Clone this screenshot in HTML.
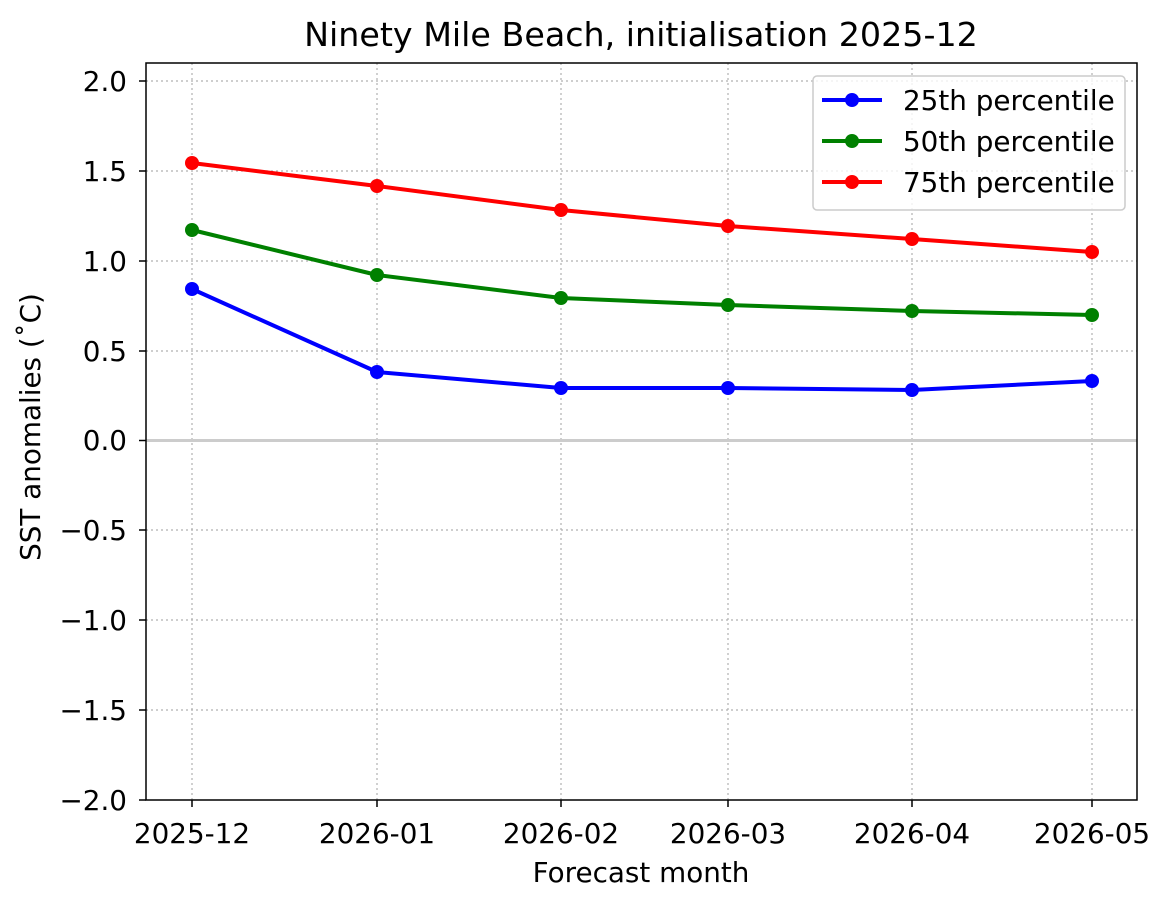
<!DOCTYPE html>
<html><head><meta charset="utf-8"><style>body{margin:0;background:#fff}svg{display:block}text{font-family:"DejaVu Sans","Liberation Sans",sans-serif;fill:#000}</style></head>
<body>
<svg width="1171" height="908" viewBox="0 0 1171 908">
<g stroke="#b0b0b0" stroke-width="1.2" stroke-dasharray="2,3">
<line x1="192" y1="63" x2="192" y2="800"/><line x1="377" y1="63" x2="377" y2="800"/><line x1="561" y1="63" x2="561" y2="800"/><line x1="728" y1="63" x2="728" y2="800"/><line x1="912" y1="63" x2="912" y2="800"/><line x1="1092" y1="63" x2="1092" y2="800"/>
<line x1="146" y1="81" x2="1137" y2="81"/><line x1="146" y1="171" x2="1137" y2="171"/><line x1="146" y1="261" x2="1137" y2="261"/><line x1="146" y1="351" x2="1137" y2="351"/><line x1="146" y1="530" x2="1137" y2="530"/><line x1="146" y1="620" x2="1137" y2="620"/><line x1="146" y1="710" x2="1137" y2="710"/>
</g>
<line x1="146" y1="440.5" x2="1137" y2="440.5" stroke="#cccccc" stroke-width="3"/>
<g fill="none" stroke-width="4" stroke-linejoin="round">
<polyline stroke="#0000ff" points="192,289 377,372 561,388 728,388 912,390 1092,381"/>
<polyline stroke="#008000" points="192,230 377,275 561,298 728,305 912,311 1092,315"/>
<polyline stroke="#ff0000" points="192,163 377,186 561,210 728,226 912,239 1092,252"/>
</g>
<g fill="#0000ff"><circle cx="192" cy="289" r="7"/><circle cx="377" cy="372" r="7"/><circle cx="561" cy="388" r="7"/><circle cx="728" cy="388" r="7"/><circle cx="912" cy="390" r="7"/><circle cx="1092" cy="381" r="7"/></g>
<g fill="#008000"><circle cx="192" cy="230" r="7"/><circle cx="377" cy="275" r="7"/><circle cx="561" cy="298" r="7"/><circle cx="728" cy="305" r="7"/><circle cx="912" cy="311" r="7"/><circle cx="1092" cy="315" r="7"/></g>
<g fill="#ff0000"><circle cx="192" cy="163" r="7"/><circle cx="377" cy="186" r="7"/><circle cx="561" cy="210" r="7"/><circle cx="728" cy="226" r="7"/><circle cx="912" cy="239" r="7"/><circle cx="1092" cy="252" r="7"/></g>
<rect x="146" y="63" width="991" height="737" fill="none" stroke="#000" stroke-width="1.5"/>
<g stroke="#000" stroke-width="1.5">
<line x1="192" y1="800" x2="192" y2="807"/><line x1="377" y1="800" x2="377" y2="807"/><line x1="561" y1="800" x2="561" y2="807"/><line x1="728" y1="800" x2="728" y2="807"/><line x1="912" y1="800" x2="912" y2="807"/><line x1="1092" y1="800" x2="1092" y2="807"/>
<line x1="139" y1="81" x2="146" y2="81"/><line x1="139" y1="171" x2="146" y2="171"/><line x1="139" y1="261" x2="146" y2="261"/><line x1="139" y1="351" x2="146" y2="351"/><line x1="139" y1="440.5" x2="146" y2="440.5"/><line x1="139" y1="530" x2="146" y2="530"/><line x1="139" y1="620" x2="146" y2="620"/><line x1="139" y1="710" x2="146" y2="710"/><line x1="139" y1="800" x2="146" y2="800"/>
</g>
<g font-size="27.8" text-anchor="middle">
<text x="192" y="843">2025-12</text><text x="377" y="843">2026-01</text><text x="561" y="843">2026-02</text><text x="728" y="843">2026-03</text><text x="912" y="843">2026-04</text><text x="1092" y="843">2026-05</text>
</g>
<g font-size="27.8" text-anchor="end">
<text x="127" y="91">2.0</text><text x="127" y="181">1.5</text><text x="127" y="271">1.0</text><text x="127" y="361">0.5</text><text x="127" y="450">0.0</text><text x="127" y="540">−0.5</text><text x="127" y="630">−1.0</text><text x="127" y="720">−1.5</text><text x="127" y="810">−2.0</text>
</g>
<text x="641" y="882" font-size="27.8" text-anchor="middle">Forecast month</text>
<text transform="translate(40,427) rotate(-90)" font-size="27.8" text-anchor="middle">SST anomalies (˚C)</text>
<text x="641" y="46" font-size="33.3" text-anchor="middle">Ninety Mile Beach, initialisation 2025-12</text>
<rect x="813" y="76" width="312" height="134" rx="4" fill="#fff" fill-opacity="0.8" stroke="#cccccc" stroke-width="1.5"/>
<g stroke-width="4"><line x1="822" y1="100" x2="882" y2="100" stroke="#0000ff"/><line x1="822" y1="141" x2="882" y2="141" stroke="#008000"/><line x1="822" y1="182" x2="882" y2="182" stroke="#ff0000"/></g>
<circle cx="852" cy="100" r="7" fill="#0000ff"/><circle cx="852" cy="141" r="7" fill="#008000"/><circle cx="852" cy="182" r="7" fill="#ff0000"/>
<g font-size="27.8"><text x="903" y="110">25th percentile</text><text x="903" y="151">50th percentile</text><text x="903" y="192">75th percentile</text></g>
</svg>
</body></html>
